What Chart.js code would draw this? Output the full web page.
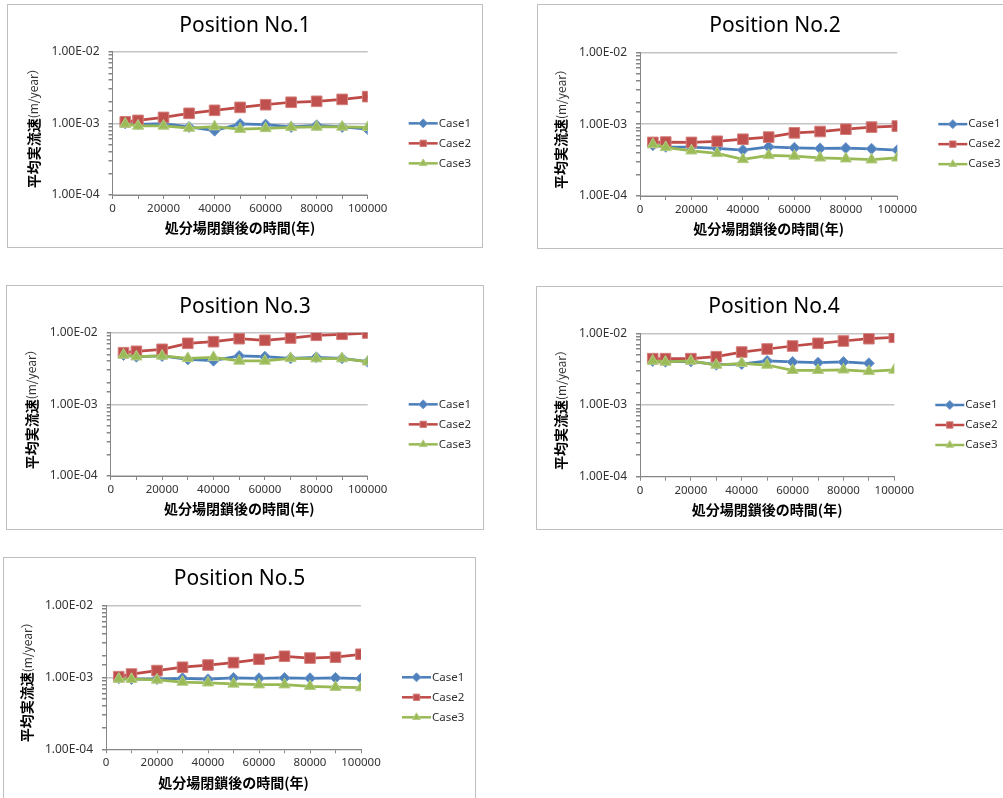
<!DOCTYPE html>
<html>
<head>
<meta charset="utf-8">
<title>平均実流速</title>
<script src="https://cdn.jsdelivr.net/npm/chart.js@4"></script>
<style>
  html, body { margin: 0; padding: 0; background: #fff; overflow: hidden; width: 1003px; height: 798px; position: relative; }
  .panel { position: absolute; box-sizing: border-box; border: 1px solid #bfbfbf; background: #fff; }
  .panel canvas { display: block; }
</style>
</head>
<body>
<div id="p1" class="panel"><canvas></canvas></div>
<div id="p2" class="panel"><canvas></canvas></div>
<div id="p3" class="panel"><canvas></canvas></div>
<div id="p4" class="panel"><canvas></canvas></div>
<div id="p5" class="panel"><canvas></canvas></div>
<script>
// ---- data -------------------------------------------------------------
// elapsed time after closure of the disposal site (years)
const years = [5000, 10000, 20000, 30000, 40000, 50000, 60000, 70000, 80000, 90000, 100000];
const seriesNames = ['Case1', 'Case2', 'Case3'];
const positionTitles = ['Position No.1', 'Position No.2', 'Position No.3', 'Position No.4', 'Position No.5'];
const xTickLabels = [0, 20000, 40000, 60000, 80000, 100000];
const yTickLabels = [1e-4, 1e-3, 1e-2];
const xAxisTitle = '処分場閉鎖後の時間(年)';
const yAxisTitleBold = '平均実流速';
const yAxisTitleUnit = '(m/year）';

// mean actual flow velocity (m/year)
const pos1Case1 = [1.00e-3, 0.97e-3, 0.99e-3, 0.89e-3, 0.79e-3, 0.98e-3, 0.96e-3, 0.89e-3, 0.94e-3, 0.89e-3, 0.83e-3];
const pos1Case2 = [1.05e-3, 1.10e-3, 1.21e-3, 1.38e-3, 1.52e-3, 1.67e-3, 1.82e-3, 1.97e-3, 2.03e-3, 2.16e-3, 2.36e-3];
const pos1Case3 = [0.98e-3, 0.92e-3, 0.92e-3, 0.86e-3, 0.90e-3, 0.83e-3, 0.85e-3, 0.88e-3, 0.89e-3, 0.89e-3, 0.88e-3];

const pos2Case1 = [0.510e-3, 0.484e-3, 0.479e-3, 0.460e-3, 0.435e-3, 0.484e-3, 0.469e-3, 0.460e-3, 0.464e-3, 0.454e-3, 0.435e-3];
const pos2Case2 = [0.557e-3, 0.563e-3, 0.557e-3, 0.578e-3, 0.617e-3, 0.660e-3, 0.757e-3, 0.790e-3, 0.850e-3, 0.909e-3, 0.940e-3];
const pos2Case3 = [0.522e-3, 0.475e-3, 0.426e-3, 0.392e-3, 0.323e-3, 0.368e-3, 0.360e-3, 0.340e-3, 0.330e-3, 0.320e-3, 0.340e-3];

const pos3Case1 = [4.89e-3, 4.62e-3, 4.73e-3, 4.25e-3, 4.07e-3, 4.73e-3, 4.62e-3, 4.39e-3, 4.53e-3, 4.39e-3, 3.94e-3];
const pos3Case2 = [5.26e-3, 5.50e-3, 5.86e-3, 7.11e-3, 7.49e-3, 8.25e-3, 7.83e-3, 8.43e-3, 9.20e-3, 9.50e-3, 9.90e-3];
const pos3Case3 = [4.89e-3, 4.62e-3, 4.73e-3, 4.39e-3, 4.53e-3, 4.03e-3, 4.03e-3, 4.39e-3, 4.35e-3, 4.35e-3, 3.94e-3];

const pos4Case1 = [4.11e-3, 4.02e-3, 4.06e-3, 3.65e-3, 3.73e-3, 4.11e-3, 3.98e-3, 3.89e-3, 3.98e-3, 3.82e-3, null];
const pos4Case2 = [4.43e-3, 4.43e-3, 4.43e-3, 4.72e-3, 5.48e-3, 6.04e-3, 6.65e-3, 7.25e-3, 7.81e-3, 8.41e-3, 8.80e-3];
const pos4Case3 = [4.11e-3, 3.98e-3, 4.11e-3, 3.61e-3, 3.82e-3, 3.61e-3, 3.05e-3, 3.05e-3, 3.10e-3, 2.95e-3, 3.08e-3];

const pos5Case1 = [0.97e-3, 0.947e-3, 0.947e-3, 0.97e-3, 0.94e-3, 0.98e-3, 0.97e-3, 0.98e-3, 0.97e-3, 0.98e-3, 0.96e-3];
const pos5Case2 = [1.02e-3, 1.11e-3, 1.24e-3, 1.38e-3, 1.48e-3, 1.60e-3, 1.78e-3, 1.96e-3, 1.85e-3, 1.90e-3, 2.09e-3];
const pos5Case3 = [0.947e-3, 0.94e-3, 0.92e-3, 0.86e-3, 0.84e-3, 0.81e-3, 0.79e-3, 0.79e-3, 0.75e-3, 0.73e-3, 0.72e-3];

const positionSeries = [
  [pos1Case1, pos1Case2, pos1Case3],
  [pos2Case1, pos2Case2, pos2Case3],
  [pos3Case1, pos3Case2, pos3Case3],
  [pos4Case1, pos4Case2, pos4Case3],
  [pos5Case1, pos5Case2, pos5Case3]
];

// ---- layout & style ----------------------------------------------------
// frame: [left, top, width, height]; plot: [left, top, right, bottom] (page px)
const panelLayout = [
  { id: 'p1', frame: [7, 4, 476, 244],   plot: [112.5, 51.7, 367.7, 195] },
  { id: 'p2', frame: [537, 4, 476, 245], plot: [640, 52.3, 897.3, 196] },
  { id: 'p3', frame: [6, 285, 478, 245], plot: [110.7, 332.7, 367.7, 476] },
  { id: 'p4', frame: [536, 286, 476, 244], plot: [640, 333.3, 894.3, 476.7] },
  { id: 'p5', frame: [3, 557, 473, 245], plot: [106, 605.3, 361, 749.3] }
];

const seriesStyle = [
  { line: '#4A7EBB', fill: '#4F81BD', edge: '#6F97CA', point: 'rectRot',  radius: 5.5 },
  { line: '#BE4B48', fill: '#C0504D', edge: '#D37E7B', point: 'rect',     radius: 7.5 },
  { line: '#98B954', fill: '#9BBB59', edge: '#B5CD85', point: 'triangle', radius: 6.5 }
];

const AXIS = '#868686';
const GRID = '#c4c4c4';
const TEXT = '#333333';
const LATIN = "'Noto Sans', 'DejaVu Sans', sans-serif";
const CJK = "'Noto Sans CJK JP', 'Noto Sans', sans-serif";

function isDecade(v) {
  const e = Math.log10(v);
  return Math.abs(e - Math.round(e)) < 1e-6;
}
function sciLabel(v) {
  const e = Math.round(Math.log10(v));
  const m = (v / Math.pow(10, e)).toFixed(2);
  return m + 'E' + (e < 0 ? '-' : '+') + String(Math.abs(e)).padStart(2, '0');
}

// panel title, legend (line + marker + name) and the two-weight rotated y-axis title
const panelDecor = {
  id: 'panelDecor',
  afterDraw(chart, args, opts) {
    const { ctx, chartArea: a } = chart;
    const cy = (a.top + a.bottom) / 2;
    ctx.save();
    // title, centred on the whole panel
    ctx.fillStyle = '#000';
    ctx.font = '21px ' + LATIN;
    ctx.textAlign = 'center';
    ctx.textBaseline = 'middle';
    ctx.fillText(opts.title, chart.width / 2, a.top - 26);

    chart.data.datasets.forEach((ds, i) => {
      const y = cy + i * 20;
      const x0 = a.right + 41, x1 = a.right + 70;
      ctx.strokeStyle = ds.borderColor;
      ctx.lineWidth = 2.5;
      ctx.beginPath(); ctx.moveTo(x0, y); ctx.lineTo(x1, y); ctx.stroke();
      ctx.fillStyle = ds.pointBackgroundColor;
      ctx.strokeStyle = ds.pointBorderColor;
      ctx.lineWidth = 1;
      Chart.helpers.drawPoint(ctx, { pointStyle: ds.pointStyle, rotation: 0, radius: 4.5, borderWidth: 1 }, (x0 + x1) / 2, y);
      ctx.fillStyle = TEXT;
      ctx.font = '11.5px ' + LATIN;
      ctx.textAlign = 'left';
      ctx.textBaseline = 'middle';
      ctx.fillText(ds.label, x1 + 1, y);
    });
    // y-axis title
    ctx.translate(a.left - 79, cy + 2);
    ctx.rotate(-Math.PI / 2);
    ctx.textBaseline = 'middle';
    ctx.textAlign = 'left';
    const boldFont = 'bold 14px ' + CJK, thinFont = '12px ' + CJK;
    ctx.font = boldFont; const w1 = ctx.measureText(yAxisTitleBold).width;
    ctx.font = thinFont; const w2 = ctx.measureText(yAxisTitleUnit).width;
    const start = -(w1 + w2) / 2;
    ctx.fillStyle = '#000';
    ctx.font = boldFont; ctx.fillText(yAxisTitleBold, start, 0);
    ctx.fillStyle = '#333';
    ctx.font = thinFont; ctx.fillText(yAxisTitleUnit, start + w1, 0);
    ctx.restore();
  }
};

panelLayout.forEach((p, idx) => {
  const el = document.getElementById(p.id);
  const [fx, fy, fw, fh] = p.frame;
  Object.assign(el.style, { left: fx + 'px', top: fy + 'px', width: fw + 'px', height: fh + 'px' });
  const cw = fw - 2, ch = fh - 2;
  const canvas = el.querySelector('canvas');
  canvas.width = cw; canvas.height = ch;
  canvas.style.width = cw + 'px'; canvas.style.height = ch + 'px';

  const l = p.plot[0] - fx - 1, t = p.plot[1] - fy - 1;
  const r = p.plot[2] - fx - 1, b = p.plot[3] - fy - 1;
  const xTitleLH = 14 * 1.2;
  const xTitlePadBottom = ch - (b + 33) - xTitleLH / 2;

  const datasets = positionSeries[idx].map((vals, i) => {
    const s = seriesStyle[i];
    return {
      label: seriesNames[i],
      data: years.map((x, k) => ({ x: x, y: vals[k] })),
      borderColor: s.line,
      backgroundColor: s.fill,
      borderWidth: 2.75,
      pointStyle: s.point,
      pointRadius: s.radius,
      pointHoverRadius: s.radius,
      pointBackgroundColor: s.fill,
      pointBorderColor: s.edge,
      pointBorderWidth: 1,
      tension: 0,
      order: 3 - i
    };
  });

  new Chart(canvas, {
    type: 'line',
    data: { datasets },
    plugins: [panelDecor],
    options: {
      responsive: false,
      animation: false,
      devicePixelRatio: 1,
      events: [],
      layout: { padding: { left: 0, top: t, right: cw - r, bottom: 0 } },
      plugins: {
        legend: { display: false },
        tooltip: { enabled: false },
        title: { display: false },
        panelDecor: { title: positionTitles[idx] }
      },
      scales: {
        x: {
          type: 'linear',
          position: 'bottom',
          min: 0,
          max: 100000,
          ticks: {
            stepSize: 10000,
            autoSkip: false,
            maxRotation: 0,
            padding: 3,
            color: TEXT,
            font: { family: LATIN, size: 11.5 },
            callback: v => (xTickLabels.includes(v) ? String(v) : '')
          },
          grid: { drawOnChartArea: false, tickLength: 4, tickColor: AXIS },
          border: { color: AXIS, width: 1 },
          title: {
            display: true,
            text: xAxisTitle,
            color: '#000',
            font: { family: CJK, size: 14, weight: 'bold', lineHeight: 1.2 },
            padding: { top: 0, bottom: xTitlePadBottom }
          },
          afterFit: s => { s.height = ch - b; }
        },
        y: {
          type: 'logarithmic',
          position: 'left',
          min: yTickLabels[0],
          max: yTickLabels[yTickLabels.length - 1],
          ticks: {
            autoSkip: false,
            padding: 9,
            color: TEXT,
            font: { family: LATIN, size: 12 },
            callback: v => (yTickLabels.some(d => Math.abs(d - v) / d < 1e-6) ? sciLabel(v) : '')
          },
          grid: {
            color: c => (c.tick && isDecade(c.tick.value) ? GRID : 'rgba(0,0,0,0)'),
            lineWidth: 1.5,
            tickLength: 4,
            tickColor: AXIS
          },
          border: { color: AXIS, width: 1 },
          afterFit: s => { s.width = l; }
        }
      }
    }
  });
});
</script>
</body>
</html>
